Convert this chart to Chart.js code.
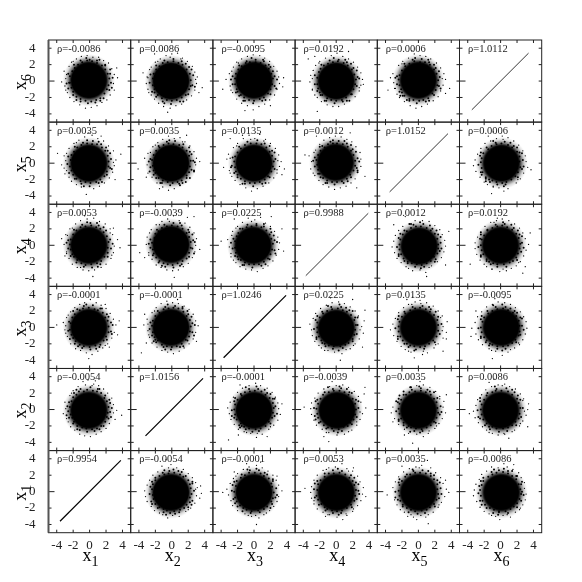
<!DOCTYPE html>
<html lang="en">
<head>
<meta charset="UTF-8">
<title>Pairwise scatter matrix</title>
<style>
    html, body { margin: 0; padding: 0; background: #fff; }
    canvas { display: block; }
</style>
</head>
<body>
<canvas id="matrix" width="582" height="582"></canvas>
<script src="https://cdn.jsdelivr.net/npm/chart.js"></script>
<script>
const names = ['1', '2', '3', '4', '5', '6'];
const tickValues = [-4, -2, 0, 2, 4];

// correlation labels, rows x1..x6, columns x1..x6
const rhoRow1 = ['0.9954', '-0.0054', '-0.0001', '0.0053', '0.0035', '-0.0086'];
const rhoRow2 = ['-0.0054', '1.0156', '-0.0001', '-0.0039', '0.0035', '0.0086'];
const rhoRow3 = ['-0.0001', '-0.0001', '1.0246', '0.0225', '0.0135', '-0.0095'];
const rhoRow4 = ['0.0053', '-0.0039', '0.0225', '0.9988', '0.0012', '0.0192'];
const rhoRow5 = ['0.0035', '0.0035', '0.0135', '0.0012', '1.0152', '0.0006'];
const rhoRow6 = ['-0.0086', '0.0086', '-0.0095', '0.0192', '0.0006', '1.0112'];
const rhoRows = [rhoRow1, rhoRow2, rhoRow3, rhoRow4, rhoRow5, rhoRow6];

// end points of the diagonal panels
const diagLow = [-3.6, -3.2, -3.7, -3.7, -3.5, -3.5];
const diagHigh = [3.8, 3.8, 3.9, 3.9, 3.6, 3.4];

const centres = {
    '1_2': [-0.1, -0.1], '1_3': [-0.1, 0], '1_4': [-0.1, 0], '1_5': [-0.1, 0], '1_6': [-0.1, 0.1],
    '2_3': [-0.1, 0], '2_4': [-0.1, 0.1], '2_5': [-0.1, 0], '2_6': [-0.1, 0],
    '3_4': [-0.1, 0], '3_5': [0, 0], '3_6': [0, 0.1],
    '4_5': [-0.1, 0.1], '4_6': [0, 0], '5_6': [0, 0.1]
};

// loose dots around each cloud (x = lower index, y = higher index)
const dots_1_2 = [[-3.0,0.9],[-2.9,0.1],[-2.8,-0.7],[-2.6,-1.5],[-2.4,1.7],[-2.0,2.3],[-1.4,2.8],[-0.8,3.4],[-0.2,3.6],[0.5,3.1],[1.1,2.9],[1.7,2.5],[2.2,2.0],[2.7,1.4],[2.9,0.6],[3.9,-0.7],[2.9,-0.4],[3.1,-1.2],[2.4,-1.7],[2.0,-2.3],[1.4,-2.7],[0.8,-3.0],[0.1,-3.3],[-0.6,-3.2],[-1.2,-3.0],[-1.8,-2.5],[-2.3,-2.1],[-2.5,0.9],[-2.6,-0.2],[-2.5,-1.0],[-1.9,2.0],[-1.1,2.5],[0.1,2.7],[1.0,2.5],[1.9,1.7],[2.5,0.8],[2.5,-0.3],[2.3,-1.1],[1.7,-2.0],[0.6,-2.6],[-0.3,-2.7],[-1.2,-2.5],[-2.0,-1.7],[-0.5,3.0],[0.7,3.5],[3.3,-0.1],[-3.2,-0.5]];
const dots_1_3 = [[-3.2,0.6],[-2.8,1.2],[-3.0,-0.3],[-2.7,-1.1],[-2.3,1.9],[-1.8,2.4],[-1.2,2.8],[-0.6,3.0],[0.1,3.4],[0.8,3.0],[1.4,2.7],[2.0,2.3],[2.5,1.7],[2.9,1.0],[3.2,0.3],[3.6,0.8],[3.0,-0.6],[2.7,-1.3],[2.2,-2.0],[1.6,-2.5],[1.0,-2.9],[0.3,-3.3],[-0.4,-3.1],[-1.1,-2.8],[-1.7,-2.6],[-2.3,-2.0],[-4.0,0.3],[-2.5,0.7],[-2.6,-0.4],[-2.4,-1.4],[-1.5,2.2],[-0.7,2.6],[0.4,2.7],[1.3,2.3],[2.1,1.6],[2.6,0.6],[2.6,-0.5],[2.1,-1.5],[1.2,-2.4],[0.1,-2.7],[-0.9,-2.5],[-1.8,-2.0],[2.4,-2.4],[-0.1,-3.8],[1.9,2.8],[3.4,-0.9]];
const dots_1_4 = [[-3.4,0.8],[-2.9,1.3],[-3.1,0.1],[-2.8,-0.8],[-2.5,-1.6],[-2.4,2.0],[-1.7,2.6],[-1.1,3.0],[-0.3,3.2],[0.5,3.3],[1.2,2.9],[1.9,2.6],[2.5,2.0],[2.8,1.3],[3.4,0.7],[3.0,-0.1],[2.9,-0.9],[2.6,-1.6],[2.0,-2.3],[1.4,-2.7],[0.6,-3.0],[-0.1,-3.1],[-0.8,-3.0],[-1.5,-2.7],[-2.1,-2.3],[-2.6,0.6],[-2.6,-0.4],[-2.3,-1.3],[-1.9,1.9],[-0.9,2.5],[0.1,2.7],[1.1,2.4],[2.0,1.8],[2.5,0.7],[2.6,-0.4],[2.2,-1.4],[1.3,-2.3],[0.3,-2.7],[-0.7,-2.6],[-1.6,-2.1],[0.4,-3.8],[-0.6,3.6],[3.7,-0.3],[2.9,2.1],[-3.0,-1.3]];
const dots_1_5 = [[-3.9,1.2],[-3.1,0.9],[-3.4,-0.2],[-2.8,-0.9],[-2.5,-1.7],[-2.5,1.8],[-1.9,2.4],[-1.3,2.8],[-0.6,3.2],[0.3,3.4],[1.0,3.0],[1.7,2.7],[2.3,2.1],[2.9,1.5],[3.8,1.1],[3.2,0.4],[3.0,-0.3],[2.8,-1.1],[2.4,-1.8],[1.8,-2.4],[1.2,-2.8],[0.5,-3.1],[-0.4,-3.8],[-1.0,-2.9],[-1.6,-2.6],[-2.2,-2.2],[-2.6,0.8],[-2.7,-0.1],[-2.5,-1.2],[-1.8,2.0],[-0.8,2.5],[0.4,2.7],[1.4,2.3],[2.2,1.5],[2.6,0.5],[2.5,-0.6],[2.1,-1.4],[1.1,-2.4],[0.0,-2.8],[-1.0,-2.5],[-1.8,-1.9],[3.1,-2.0],[1.4,3.3],[-0.1,3.7],[-3.1,-0.6]];
const dots_1_6 = [[-3.1,1.2],[-2.9,0.3],[-3.0,-0.6],[-2.7,-1.4],[-2.5,1.8],[-2.2,2.3],[-1.6,2.7],[-1.0,3.0],[-0.3,3.1],[0.4,2.9],[1.1,2.9],[1.7,2.5],[2.3,2.2],[2.7,1.5],[3.0,0.8],[3.4,0.4],[2.9,-0.3],[3.0,-1.1],[2.5,-1.7],[2.1,-2.3],[1.5,-2.6],[0.9,-3.0],[0.2,-3.2],[-0.5,-3.3],[-1.2,-2.9],[-1.9,-2.5],[-2.4,-2.0],[-2.6,0.9],[-2.5,-0.2],[-2.6,-0.9],[-1.9,2.0],[-1.1,2.5],[0.0,2.6],[0.9,2.5],[1.9,1.9],[2.5,0.9],[2.6,-0.2],[2.4,-1.1],[1.7,-2.1],[0.7,-2.6],[-0.2,-2.7],[-1.1,-2.5],[-2.0,-1.7],[3.3,1.6],[-3.4,-0.1]];
const dots_2_3 = [[-3.4,0.3],[-3.0,1.0],[-2.9,-0.4],[-2.7,-1.2],[-2.4,1.8],[-1.9,2.4],[-1.3,2.9],[-0.6,3.2],[0.1,3.0],[0.8,2.9],[1.5,2.6],[2.1,2.2],[2.6,1.6],[2.9,0.8],[3.2,0.2],[2.9,-0.6],[2.6,-1.4],[2.1,-2.0],[1.5,-2.5],[0.9,-2.9],[0.2,-3.2],[-0.5,-3.0],[-1.2,-2.8],[-1.8,-2.4],[-2.4,-1.9],[-3.7,-3.1],[-2.6,0.6],[-2.7,-0.2],[-2.4,-1.0],[-1.7,2.0],[-0.8,2.5],[0.4,2.6],[1.3,2.3],[2.0,1.6],[2.5,0.5],[2.5,-0.6],[1.9,-1.6],[1.0,-2.4],[-0.1,-2.7],[-1.0,-2.4],[-1.9,-1.8],[-3.1,-1.9],[-3.3,1.6],[3.0,-1.7],[0.7,3.4]];
const dots_2_4 = [[-3.9,-0.9],[-3.0,1.0],[-3.1,0.1],[-2.8,-0.9],[-2.4,-1.7],[-2.5,1.9],[-1.9,2.5],[-1.2,2.9],[-0.5,3.2],[0.2,3.6],[0.9,3.0],[1.6,2.7],[2.2,2.2],[2.7,1.5],[3.0,0.8],[2.9,0.0],[2.8,-0.8],[2.5,-1.5],[2.0,-2.2],[1.4,-2.6],[0.8,-3.0],[0.1,-3.1],[-0.6,-3.0],[-1.3,-2.7],[-1.9,-2.4],[-2.6,0.7],[-2.6,-0.3],[-2.3,-1.2],[-1.8,1.9],[-0.9,2.5],[0.2,2.7],[1.2,2.4],[2.1,1.6],[2.6,0.6],[2.5,-0.4],[2.1,-1.4],[1.2,-2.3],[0.2,-2.7],[-0.8,-2.6],[-1.6,-2.1],[2.7,3.5],[1.9,3.4],[0.3,-3.9],[3.4,-0.5],[-3.3,-1.5]];
const dots_2_5 = [[-4.1,-0.7],[-3.3,0.6],[-2.9,1.2],[-3.0,-0.2],[-2.7,-1.0],[-2.4,-1.7],[-2.3,2.0],[-1.7,2.5],[-1.1,2.9],[-0.4,3.3],[0.3,3.0],[1.0,3.1],[1.6,2.6],[2.2,2.1],[2.7,1.4],[3.0,0.6],[2.9,-0.2],[2.7,-1.0],[2.2,-1.8],[1.7,-2.3],[1.0,-2.7],[0.3,-3.1],[-0.4,-3.3],[-1.1,-2.9],[-1.8,-2.4],[-2.6,0.5],[-2.6,-0.5],[-2.2,-1.4],[-1.6,2.1],[-0.6,2.6],[0.4,2.7],[1.4,2.3],[2.2,1.4],[2.6,0.3],[2.4,-0.8],[1.8,-1.8],[0.9,-2.5],[-0.2,-2.7],[-1.2,-2.4],[-1.9,-1.8],[-3.1,-1.7],[1.8,3.4],[3.4,0.2],[-1.5,-3.1]];
const dots_2_6 = [[-3.5,1.0],[-3.0,0.5],[-3.1,-0.3],[-2.9,-1.0],[-2.5,-1.7],[-2.5,1.7],[-2.0,2.3],[-1.4,2.7],[-0.7,3.1],[0.0,3.3],[0.7,3.4],[1.3,2.8],[1.9,2.4],[2.5,1.8],[2.8,1.1],[3.1,0.5],[3.0,-0.3],[2.8,-1.1],[2.4,-1.8],[1.8,-2.3],[1.2,-2.8],[0.5,-3.0],[-0.2,-3.3],[-1.0,-3.1],[-1.6,-2.7],[-2.1,-2.2],[-2.6,0.8],[-2.7,-0.2],[-2.4,-1.3],[-1.9,1.9],[-0.9,2.5],[0.2,2.7],[1.2,2.4],[2.1,1.7],[2.6,0.7],[2.5,-0.5],[2.0,-1.6],[1.0,-2.5],[-0.1,-2.8],[-1.1,-2.5],[-1.9,-1.9],[-2.1,3.3],[3.7,-0.8],[3.3,-1.4],[-0.5,-3.8]];
const dots_3_4 = [[-4.0,0.5],[-3.2,0.7],[-3.0,-0.2],[-2.8,-1.0],[-2.5,-1.8],[-2.6,1.7],[-2.0,2.3],[-1.4,2.8],[-0.7,3.3],[0.1,3.1],[0.8,3.4],[1.4,2.7],[2.0,2.3],[2.5,1.7],[2.9,1.0],[3.1,0.3],[3.0,-0.5],[2.7,-1.2],[2.3,-1.9],[1.7,-2.5],[1.1,-2.8],[0.4,-3.2],[-0.3,-3.0],[-1.0,-2.9],[-1.7,-2.6],[-2.2,-2.1],[-2.5,0.8],[-2.6,-0.4],[-2.3,-1.3],[-1.7,2.0],[-0.8,2.5],[0.3,2.6],[1.2,2.3],[2.1,1.6],[2.5,0.6],[2.5,-0.6],[1.9,-1.7],[0.9,-2.5],[-0.2,-2.7],[-1.2,-2.4],[-1.9,-1.7],[-2.4,3.2],[3.4,2.0],[2.1,3.5],[3.6,-0.7]];
const dots_3_5 = [[-3.7,-0.5],[-3.3,0.5],[-3.1,1.1],[-3.0,-0.9],[-2.7,-1.6],[-2.5,1.9],[-2.0,2.4],[-1.3,3.0],[-0.6,3.4],[0.1,3.0],[0.7,3.5],[1.4,2.9],[2.0,2.4],[2.6,1.8],[3.0,1.0],[3.3,0.2],[3.1,-0.4],[2.8,-1.2],[2.4,-1.8],[1.8,-2.4],[1.1,-2.8],[0.4,-3.1],[-0.3,-3.4],[-1.0,-3.0],[-1.7,-2.6],[-2.3,-2.1],[-2.6,0.7],[-2.7,-0.3],[-2.4,-1.2],[-1.8,2.0],[-0.8,2.6],[0.4,2.8],[1.3,2.4],[2.2,1.5],[2.6,0.5],[2.5,-0.7],[1.9,-1.7],[1.0,-2.5],[-0.1,-2.8],[-1.1,-2.5],[-2.0,-1.7],[-2.9,3.0],[3.7,-0.7],[3.4,-1.4],[-1.4,3.4]];
const dots_3_6 = [[-3.8,-1.0],[-3.4,0.2],[-3.0,0.9],[-2.9,-0.6],[-2.6,-1.4],[-2.5,1.7],[-2.1,2.3],[-1.5,2.7],[-0.8,3.0],[-0.1,3.2],[0.7,3.1],[1.3,2.8],[1.9,2.4],[2.4,1.8],[2.8,1.2],[3.0,0.5],[3.1,-0.3],[2.8,-1.0],[2.5,-1.7],[1.9,-2.3],[1.3,-2.8],[0.6,-3.1],[-0.1,-3.5],[-0.8,-3.0],[-1.5,-2.7],[-2.1,-2.2],[-2.6,0.6],[-2.6,-0.4],[-2.2,-1.4],[-1.8,1.9],[-0.9,2.4],[0.2,2.6],[1.2,2.4],[2.0,1.7],[2.5,0.6],[2.5,-0.6],[2.0,-1.6],[1.0,-2.4],[-0.1,-2.7],[-1.1,-2.4],[-1.8,-1.8],[-1.1,-3.6],[3.5,-0.7],[3.6,0.4],[2.0,-3.0]];
const dots_4_5 = [[-3.8,1.0],[-3.3,0.9],[-3.0,0.2],[-3.1,-0.7],[-2.6,-1.5],[-2.5,1.6],[-2.0,2.3],[-1.5,2.8],[-0.8,3.1],[-0.1,3.3],[0.6,3.2],[1.3,2.9],[1.9,2.6],[2.4,2.0],[2.9,1.3],[3.0,0.5],[3.0,-0.4],[2.6,-1.1],[2.3,-1.9],[1.8,-2.4],[1.2,-2.8],[0.5,-3.0],[-0.2,-3.2],[-0.9,-2.9],[-1.6,-2.6],[-2.1,-2.1],[-2.6,0.7],[-2.6,-0.4],[-2.2,-1.3],[-1.7,2.1],[-0.7,2.6],[0.3,2.7],[1.3,2.4],[2.0,1.7],[2.6,0.6],[2.5,-0.6],[1.8,-1.7],[0.9,-2.4],[-0.2,-2.6],[-1.1,-2.4],[-1.9,-1.7],[3.5,-1.6],[2.5,-3.0],[-2.4,3.3],[1.7,3.7]];
const dots_4_6 = [[-3.4,2.7],[-3.1,0.7],[-3.2,-0.1],[-2.9,-1.0],[-2.6,-1.7],[-2.5,1.9],[-2.0,2.4],[-1.3,2.8],[-0.6,3.1],[0.1,3.4],[0.8,3.0],[1.5,2.7],[2.1,2.3],[2.6,1.7],[3.0,1.0],[3.2,0.2],[3.0,-0.5],[2.8,-1.2],[2.3,-1.9],[1.6,-2.4],[1.0,-2.8],[0.3,-3.1],[-0.4,-3.1],[-1.1,-2.9],[-1.8,-2.5],[-2.3,-2.0],[-2.6,0.7],[-2.6,-0.4],[-2.3,-1.2],[-1.8,2.0],[-0.8,2.5],[0.3,2.6],[1.3,2.3],[2.1,1.6],[2.6,0.5],[2.5,-0.6],[1.9,-1.6],[0.8,-2.5],[-0.2,-2.7],[-1.2,-2.4],[-1.9,-1.7],[-2.3,-3.7],[-2.6,3.0],[3.3,-0.4],[1.5,3.6]];
const dots_5_6 = [[-3.4,0.4],[-3.1,0.9],[-3.0,-0.2],[-2.9,-0.9],[-2.6,-1.6],[-2.4,1.9],[-1.9,2.4],[-1.2,2.8],[-0.5,3.3],[0.2,3.1],[0.9,3.0],[1.5,2.7],[2.2,2.2],[2.7,1.6],[3.1,0.9],[3.3,0.2],[3.0,-0.5],[2.7,-1.2],[2.4,-1.9],[1.8,-2.4],[1.1,-2.8],[0.4,-3.1],[-0.3,-3.3],[-1.0,-3.0],[-1.7,-2.5],[-2.3,-2.0],[-2.6,0.6],[-2.6,-0.4],[-2.3,-1.3],[-1.7,2.1],[-0.7,2.6],[0.4,2.7],[1.3,2.3],[2.1,1.6],[2.6,0.5],[2.5,-0.6],[1.9,-1.7],[0.9,-2.5],[-0.2,-2.7],[-1.1,-2.4],[-1.9,-1.8],[3.8,-0.9],[-3.7,-1.1],[-0.8,3.7],[3.3,-1.5]];

// the busier dots just outside the solid part, also estimated
const rim_1_2 = [[-2.4,0.3],[-2.3,-0.6],[-2.2,1.0],[-2.0,1.5],[-1.6,1.8],[-1.3,2.2],[-0.7,2.2],[-0.3,2.4],[0.4,2.3],[0.9,2.2],[1.4,2.0],[1.8,1.4],[2.1,1.0],[2.3,0.3],[2.2,-0.4],[2.1,-0.9],[1.9,-1.5],[1.4,-2.0],[0.9,-2.3],[0.3,-2.4],[-0.4,-2.3],[-0.9,-2.2],[-1.5,-2.0],[-1.9,-1.5],[-2.1,-1.0],[-2.7,0.4],[-2.2,2.0],[2.4,1.2],[2.6,-0.9],[1.2,2.5],[-1.6,2.4],[-1.5,-2.4],[1.2,-2.4],[-2.8,-1.1],[2.7,0.2],[0.3,2.9]];
const rim_1_3 = [[-2.3,0.5],[-2.4,-0.3],[-2.2,-0.9],[-2.1,1.2],[-1.8,1.6],[-1.2,2.1],[-0.8,2.3],[-0.1,2.4],[0.6,2.2],[1.0,2.1],[1.6,1.8],[1.9,1.2],[2.2,0.8],[2.3,0.1],[2.3,-0.6],[2.0,-1.1],[1.7,-1.6],[1.3,-2.1],[0.7,-2.2],[0.0,-2.4],[-0.7,-2.3],[-1.2,-2.1],[-1.7,-1.7],[-2.0,-1.3],[-2.9,0.2],[-2.6,1.5],[-2.0,2.0],[2.3,1.3],[2.7,-0.8],[1.5,2.3],[-0.4,2.8],[-1.4,-2.3],[0.8,-2.6],[-2.9,-0.7],[2.8,0.3],[1.9,-2.2]];
const rim_1_4 = [[-2.4,0.1],[-2.3,0.7],[-2.3,-0.5],[-2.1,-1.1],[-2.0,1.3],[-1.6,1.8],[-1.1,2.2],[-0.5,2.3],[0.2,2.4],[0.8,2.2],[1.3,2.0],[1.7,1.6],[2.1,1.1],[2.3,0.4],[2.2,-0.3],[2.2,-0.9],[1.8,-1.4],[1.4,-1.9],[0.9,-2.2],[0.2,-2.3],[-0.5,-2.4],[-1.0,-2.2],[-1.5,-1.8],[-1.9,-1.4],[-2.8,0.3],[-2.7,1.2],[-2.1,2.1],[2.5,1.5],[2.7,-1.2],[0.9,2.7],[-0.3,2.8],[-1.1,-2.7],[1.0,-2.6],[-2.8,-1.0],[2.8,0.2],[1.7,2.2]];
const rim_1_5 = [[-2.3,0.4],[-2.4,-0.4],[-2.2,-0.9],[-2.2,1.0],[-1.9,1.4],[-1.5,1.9],[-1.0,2.2],[-0.3,2.4],[0.3,2.3],[0.9,2.3],[1.5,1.9],[1.9,1.5],[2.2,0.9],[2.3,0.2],[2.3,-0.4],[2.1,-1.0],[1.8,-1.6],[1.3,-2.0],[0.8,-2.3],[0.1,-2.4],[-0.5,-2.3],[-1.1,-2.2],[-1.6,-1.9],[-2.0,-1.4],[-2.9,0.3],[-2.8,1.2],[-1.6,2.5],[2.5,1.2],[2.7,-0.7],[1.1,2.6],[-0.3,2.8],[-0.7,-2.8],[1.5,-2.3],[-3.0,-1.3],[2.9,0.1],[2.0,1.9]];
const rim_1_6 = [[-2.4,0.6],[-2.4,-0.2],[-2.2,-0.8],[-2.1,1.2],[-1.8,1.6],[-1.4,2.0],[-0.9,2.3],[-0.3,2.5],[0.3,2.4],[0.9,2.2],[1.5,1.9],[1.9,1.4],[2.2,0.9],[2.4,0.3],[2.3,-0.5],[2.1,-1.0],[1.8,-1.5],[1.3,-2.1],[0.8,-2.3],[0.2,-2.5],[-0.5,-2.4],[-1.1,-2.2],[-1.6,-1.9],[-2.0,-1.3],[-2.8,0.8],[-2.8,-0.3],[-2.0,2.4],[2.5,1.4],[2.7,-0.8],[1.2,2.6],[-0.4,2.8],[-1.6,-2.3],[1.3,-2.4],[-2.9,-1.1],[2.8,0.4],[1.9,2.0]];
const rim_2_3 = [[-2.4,0.2],[-2.3,0.8],[-2.3,-0.6],[-2.1,-1.2],[-2.0,1.4],[-1.5,1.8],[-1.0,2.2],[-0.4,2.3],[0.2,2.4],[0.8,2.3],[1.4,1.9],[1.8,1.4],[2.2,0.9],[2.3,0.1],[2.2,-0.5],[2.1,-1.1],[1.7,-1.5],[1.2,-2.0],[0.6,-2.3],[0.0,-2.4],[-0.6,-2.3],[-1.2,-2.1],[-1.7,-1.6],[-2.0,-1.5],[-2.9,0.4],[-2.8,-0.9],[-2.1,2.0],[2.4,1.3],[2.7,-1.0],[1.3,2.5],[-0.5,2.8],[-0.8,-2.7],[1.4,-2.3],[-2.2,-1.7],[2.8,0.3],[1.9,2.0]];
const rim_2_4 = [[-2.4,0.3],[-2.3,-0.5],[-2.2,-1.0],[-2.1,0.9],[-2.0,1.4],[-1.6,1.7],[-1.2,2.1],[-0.6,2.3],[0.0,2.4],[0.7,2.3],[1.3,2.0],[1.8,1.5],[2.1,1.0],[2.3,0.4],[2.3,-0.3],[2.1,-0.9],[1.8,-1.6],[1.3,-1.9],[0.7,-2.2],[0.1,-2.4],[-0.5,-2.3],[-1.0,-2.2],[-1.5,-1.9],[-1.9,-1.5],[-2.8,0.2],[-2.7,1.5],[-1.5,2.5],[2.5,1.3],[2.7,-1.0],[1.0,2.7],[-0.3,2.9],[-1.2,-2.5],[1.0,-2.5],[-2.8,-1.2],[2.8,0.4],[2.0,1.9]];
const rim_2_5 = [[-2.4,0.4],[-2.3,-0.3],[-2.2,-0.9],[-2.2,1.0],[-1.9,1.5],[-1.5,1.9],[-1.0,2.2],[-0.4,2.4],[0.2,2.3],[0.9,2.2],[1.3,1.9],[1.8,1.5],[2.1,0.9],[2.3,0.3],[2.2,-0.4],[2.1,-1.1],[1.8,-1.5],[1.2,-2.1],[0.7,-2.3],[0.1,-2.4],[-0.5,-2.3],[-1.1,-2.1],[-1.6,-1.8],[-2.0,-1.2],[-2.8,0.2],[-2.6,1.3],[-2.0,2.2],[2.4,1.1],[2.7,-0.9],[1.3,2.6],[-0.3,2.8],[-1.4,-2.4],[1.3,-2.4],[-2.9,-1.2],[2.8,0.1],[2.1,1.9]];
const rim_2_6 = [[-2.3,0.3],[-2.3,-0.5],[-2.1,-1.0],[-2.2,0.9],[-1.9,1.4],[-1.5,1.8],[-1.1,2.2],[-0.5,2.3],[0.2,2.4],[0.8,2.2],[1.3,2.0],[1.8,1.4],[2.2,0.9],[2.3,0.1],[2.3,-0.6],[2.1,-1.0],[1.7,-1.7],[1.2,-2.0],[0.6,-2.3],[0.0,-2.4],[-0.6,-2.3],[-1.2,-2.1],[-1.7,-1.7],[-2.1,-1.4],[-2.9,0.4],[-2.7,1.4],[-1.7,2.4],[2.4,1.4],[2.8,-0.7],[1.1,2.7],[-0.2,2.9],[-0.9,-2.7],[1.4,-2.5],[-2.8,-1.4],[2.9,0.2],[1.7,2.1]];
const rim_3_4 = [[-2.3,0.5],[-2.3,-0.3],[-2.2,-0.9],[-2.1,1.1],[-1.9,1.5],[-1.4,2.0],[-0.9,2.2],[-0.3,2.3],[0.3,2.4],[0.9,2.2],[1.5,1.8],[1.9,1.3],[2.1,0.8],[2.3,0.2],[2.2,-0.5],[2.0,-1.1],[1.7,-1.6],[1.2,-2.0],[0.6,-2.3],[0.0,-2.3],[-0.6,-2.3],[-1.1,-2.1],[-1.6,-1.8],[-2.0,-1.4],[-2.8,0.3],[-2.7,1.2],[-2.2,2.1],[2.4,1.2],[2.6,-1.0],[1.2,2.6],[-0.3,2.9],[-1.4,-2.4],[1.4,-2.3],[-2.8,-1.4],[2.8,0.4],[2.0,2.0]];
const rim_3_5 = [[-2.4,0.2],[-2.3,0.8],[-2.3,-0.5],[-2.2,-1.0],[-2.0,1.3],[-1.6,1.8],[-1.1,2.2],[-0.4,2.4],[0.3,2.4],[0.9,2.3],[1.5,1.9],[1.9,1.4],[2.2,0.9],[2.4,0.2],[2.3,-0.4],[2.1,-1.0],[1.7,-1.6],[1.3,-2.0],[0.7,-2.3],[0.1,-2.4],[-0.5,-2.4],[-1.1,-2.2],[-1.6,-1.9],[-2.0,-1.4],[-2.9,0.6],[-2.8,-0.5],[-2.1,2.1],[2.5,1.3],[2.8,-0.8],[1.2,2.7],[-0.4,2.9],[-1.4,-2.5],[1.4,-2.4],[-2.9,-1.2],[2.9,0.3],[1.9,2.1]];
const rim_3_6 = [[-2.3,0.3],[-2.3,-0.4],[-2.1,-1.0],[-2.2,0.9],[-1.9,1.4],[-1.5,1.8],[-1.0,2.2],[-0.5,2.3],[0.2,2.3],[0.8,2.2],[1.4,1.9],[1.8,1.5],[2.1,0.9],[2.3,0.3],[2.2,-0.4],[2.0,-1.0],[1.7,-1.5],[1.2,-2.0],[0.7,-2.2],[0.0,-2.4],[-0.6,-2.3],[-1.2,-2.0],[-1.6,-1.7],[-2.0,-1.3],[-2.8,0.2],[-2.7,1.2],[-1.9,2.2],[2.3,1.2],[2.7,-0.9],[1.1,2.6],[-0.3,2.8],[-1.3,-2.4],[1.4,-2.3],[-2.8,-1.1],[2.8,0.2],[1.8,2.0]];
const rim_4_5 = [[-2.4,0.4],[-2.3,-0.2],[-2.2,-0.8],[-2.2,1.0],[-1.9,1.5],[-1.4,1.9],[-1.0,2.3],[-0.4,2.4],[0.1,2.4],[0.8,2.3],[1.4,2.0],[1.8,1.5],[2.1,1.0],[2.3,0.3],[2.3,-0.3],[2.1,-0.9],[1.7,-1.4],[1.3,-1.9],[0.7,-2.2],[0.1,-2.3],[-0.5,-2.3],[-1.1,-2.1],[-1.6,-1.8],[-2.0,-1.3],[-2.8,0.3],[-2.7,1.3],[-2.0,2.0],[2.4,1.4],[2.6,-0.9],[1.0,2.7],[-0.4,2.8],[-1.3,-2.4],[1.4,-2.2],[-2.8,-1.2],[2.8,0.2],[1.8,2.2]];
const rim_4_6 = [[-2.3,0.4],[-2.3,-0.4],[-2.2,-0.9],[-2.1,1.1],[-1.9,1.5],[-1.5,1.9],[-1.0,2.1],[-0.4,2.3],[0.2,2.4],[0.9,2.2],[1.4,1.9],[1.9,1.4],[2.2,0.8],[2.4,0.2],[2.3,-0.4],[2.1,-1.0],[1.8,-1.6],[1.2,-2.0],[0.7,-2.3],[0.0,-2.4],[-0.6,-2.3],[-1.1,-2.1],[-1.7,-1.7],[-2.0,-1.4],[-2.9,0.3],[-2.8,1.3],[-2.1,2.2],[2.5,1.3],[2.8,-0.8],[1.1,2.6],[-0.3,2.8],[-1.4,-2.4],[1.3,-2.4],[-2.9,-1.1],[2.8,0.3],[1.8,2.1]];
const rim_5_6 = [[-2.4,0.2],[-2.3,0.7],[-2.3,-0.5],[-2.1,-1.0],[-2.0,1.3],[-1.6,1.8],[-1.1,2.1],[-0.5,2.4],[0.2,2.3],[0.8,2.3],[1.4,2.0],[1.9,1.4],[2.2,0.9],[2.4,0.1],[2.3,-0.5],[2.1,-1.1],[1.7,-1.5],[1.2,-2.1],[0.6,-2.3],[0.1,-2.4],[-0.6,-2.3],[-1.1,-2.2],[-1.7,-1.8],[-2.0,-1.4],[-2.8,0.4],[-2.8,-0.9],[-2.0,2.1],[2.5,1.2],[2.7,-0.9],[1.2,2.6],[-0.4,2.8],[-1.4,-2.3],[1.3,-2.4],[-2.2,-1.8],[2.9,0.3],[1.9,2.0]];

const clouds = {
    '1_2': dots_1_2, '1_3': dots_1_3, '1_4': dots_1_4, '1_5': dots_1_5, '1_6': dots_1_6,
    '2_3': dots_2_3, '2_4': dots_2_4, '2_5': dots_2_5, '2_6': dots_2_6,
    '3_4': dots_3_4, '3_5': dots_3_5, '3_6': dots_3_6,
    '4_5': dots_4_5, '4_6': dots_4_6, '5_6': dots_5_6
};
const rims = {
    '1_2': rim_1_2, '1_3': rim_1_3, '1_4': rim_1_4, '1_5': rim_1_5, '1_6': rim_1_6,
    '2_3': rim_2_3, '2_4': rim_2_4, '2_5': rim_2_5, '2_6': rim_2_6,
    '3_4': rim_3_4, '3_5': rim_3_5, '3_6': rim_3_6,
    '4_5': rim_4_5, '4_6': rim_4_6, '5_6': rim_5_6
};

const serif = "'Liberation Serif', 'Times New Roman', serif";
const inkColor = '#222';

function toPoint(pair, swap) {
    return swap ? { x: pair[1], y: pair[0] } : { x: pair[0], y: pair[1] };
}

// the core of a cloud is too dense to separate into dots: a solid disc fading out at the rim
function makeCoreSprite() {
    const sprite = document.createElement('canvas');
    sprite.width = sprite.height = 60;
    const g = sprite.getContext('2d');
    const grad = g.createRadialGradient(30, 30, 0, 30, 30, 29);
    grad.addColorStop(0, 'rgba(0,0,0,1)');
    grad.addColorStop(0.6, 'rgba(0,0,0,1)');
    grad.addColorStop(0.7, 'rgba(0,0,0,0.5)');
    grad.addColorStop(0.8, 'rgba(0,0,0,0.14)');
    grad.addColorStop(0.9, 'rgba(0,0,0,0)');
    g.fillStyle = grad;
    g.fillRect(0, 0, 60, 60);
    return sprite;
}
const coreSprite = makeCoreSprite();

// one set of datasets per panel
const datasets = [];
names.forEach((cn, c) => {
    names.forEach((rn, r) => {
        const xAxisID = 'x' + cn;
        const yAxisID = 'y' + rn;
        if (c === r) {
            datasets.push({
                xAxisID, yAxisID, showLine: true, borderColor: '#000',
                borderWidth: c < 3 ? 1.2 : 0.8, pointRadius: 0,
                data: [{ x: diagLow[c], y: diagLow[c] }, { x: diagHigh[c], y: diagHigh[c] }]
            });
            return;
        }
        const swap = c > r;
        const key = swap ? (r + 1) + '_' + (c + 1) : (c + 1) + '_' + (r + 1);
        datasets.push({
            xAxisID, yAxisID, order: 2, pointStyle: coreSprite, pointRadius: 30,
            data: [toPoint(centres[key], swap)]
        });
        datasets.push({
            xAxisID, yAxisID, order: 1, pointBorderWidth: 0, pointBackgroundColor: '#000',
            data: clouds[key].concat(rims[key]).map(p => toPoint(p, swap)),
            pointRadius: ctx => {
                const p = ctx.raw;
                return p && Math.hypot(p.x, p.y) < 2.9 ? 1 : 0.65;
            }
        });
    });
});

const scales = {};
function axisBase(size, padding) {
    return {
        type: 'linear', min: -5, max: 5, stackWeight: 1,
        afterBuildTicks: s => { s.ticks = tickValues.map(v => ({ value: v })); },
        afterFit: s => {
            if (s.isHorizontal()) s.height = size; else s.width = size;
        },
        grid: { display: false },
        border: { display: false },
        ticks: {
            autoSkip: false, maxRotation: 0, color: inkColor, padding,
            font: { family: serif, size: 13 }
        }
    };
}
names.forEach(n => {
    scales['x' + n] = Object.assign(axisBase(49.3, -3), { position: 'bottom', stack: 'cols' });
});
names.forEach(n => {
    scales['y' + n] = Object.assign(axisBase(48.5, 5), { position: 'left', stack: 'rows' });
});

const panelFurniture = {
    id: 'panelFurniture',
    afterDatasetsDraw(chart) {
        const ctx = chart.ctx;
        ctx.save();
        names.forEach((cn, c) => {
            names.forEach((rn, r) => {
                const xs = chart.scales['x' + cn];
                const ys = chart.scales['y' + rn];
                ctx.strokeStyle = inkColor;
                ctx.lineWidth = 1;
                ctx.strokeRect(xs.left, ys.top, xs.right - xs.left, ys.bottom - ys.top);
                ctx.beginPath();
                tickValues.forEach(v => {
                    const px = xs.getPixelForValue(v);
                    const py = ys.getPixelForValue(v);
                    const leftLen = v === 0 ? 6 : 3;
                    ctx.moveTo(px, ys.bottom); ctx.lineTo(px, ys.bottom - 3);
                    ctx.moveTo(px, ys.top); ctx.lineTo(px, ys.top + 3);
                    ctx.moveTo(xs.left, py); ctx.lineTo(xs.left + leftLen, py);
                    ctx.moveTo(xs.right, py); ctx.lineTo(xs.right - 3, py);
                });
                ctx.stroke();
                ctx.fillStyle = inkColor;
                ctx.font = '10.5px ' + serif;
                ctx.textAlign = 'left';
                ctx.textBaseline = 'middle';
                ctx.fillText('ρ=' + rhoRows[r][c], xs.left + 8.5, ys.top + 9);
            });
        });
        // outer left edge is heavier in the original
        const left = chart.scales.x1.left;
        ctx.strokeStyle = '#555';
        ctx.lineWidth = 2;
        ctx.beginPath();
        ctx.moveTo(left, chart.scales.y6.top);
        ctx.lineTo(left, chart.scales.y1.bottom);
        ctx.stroke();

        // axis titles with subscripts
        ctx.fillStyle = '#000';
        ctx.textBaseline = 'alphabetic';
        names.forEach(n => {
            const xs = chart.scales['x' + n];
            drawTitle(ctx, n, (xs.left + xs.right) / 2 - 7, 561, 0);
            const ys = chart.scales['y' + n];
            drawTitle(ctx, n, 26, (ys.top + ys.bottom) / 2 + 9, -Math.PI / 2);
        });
        ctx.restore();
    }
};

function drawTitle(ctx, n, x, y, angle) {
    ctx.save();
    ctx.translate(x, y);
    ctx.rotate(angle);
    ctx.font = '18px ' + serif;
    ctx.textAlign = 'left';
    ctx.fillText('x', 0, 0);
    const w = ctx.measureText('x').width;
    ctx.font = '14px ' + serif;
    ctx.fillText(n, w, 5);
    ctx.restore();
}

new Chart(document.getElementById('matrix'), {
    type: 'scatter',
    data: { datasets },
    options: {
        responsive: false,
        animation: false,
        events: [],
        layout: { padding: { left: 0, right: 40.3, top: 40, bottom: 0 } },
        plugins: { legend: { display: false }, tooltip: { enabled: false }, title: { display: false } },
        scales
    },
    plugins: [panelFurniture]
});
</script>
</body>
</html>
